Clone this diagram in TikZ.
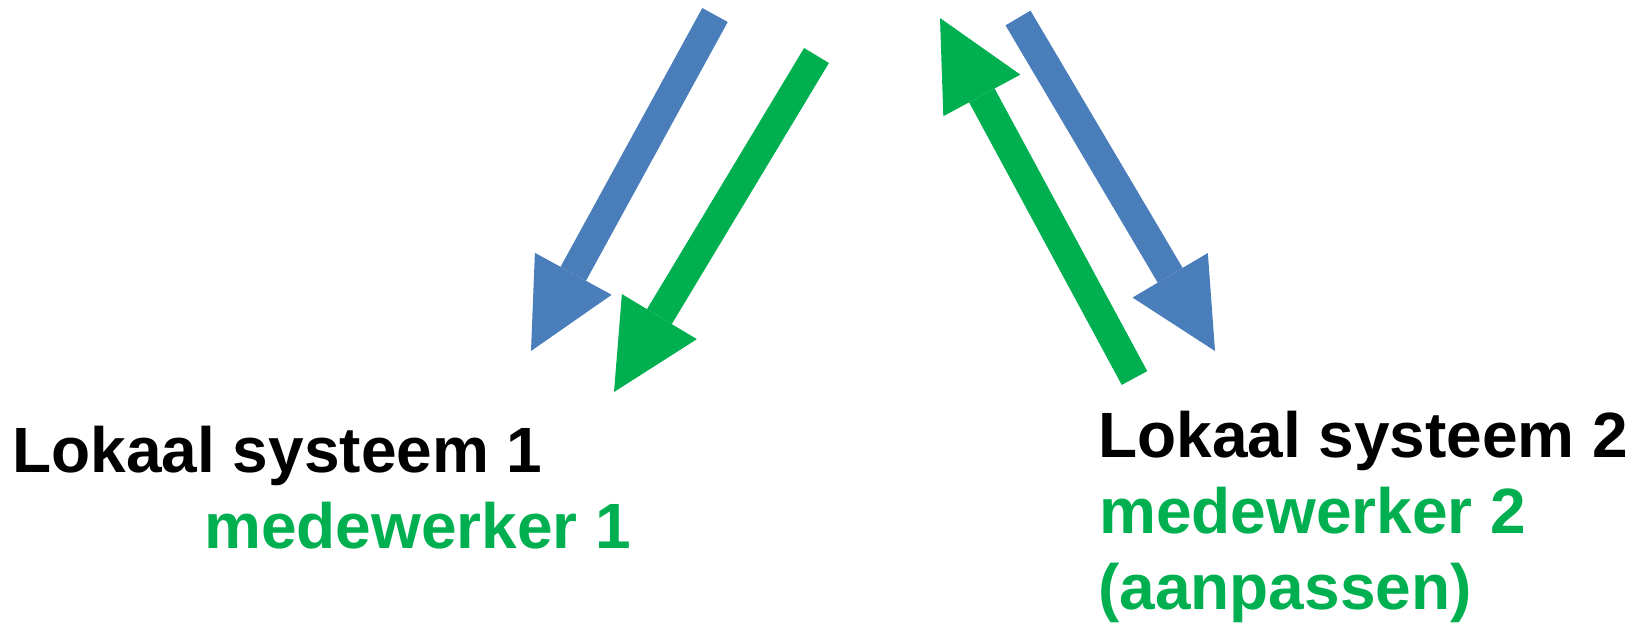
\documentclass[tikz,border=0pt]{standalone}
\usepackage{fontspec}
\setmainfont{Liberation Sans}
\usetikzlibrary{arrows.meta}

\definecolor{pijlblauw}{HTML}{4A7EBB}
\definecolor{pijlgroen}{HTML}{00B050}

\tikzset{
  pijl/.style={line width=29pt, -{Triangle[width=87.5pt,length=88pt,line width=0pt]}},
  tekst/.style={inner sep=0pt, anchor=base west, font=\bfseries\fontsize{64}{76}\selectfont}
}

\begin{document}
\begin{tikzpicture}[x=1pt,y=-1pt]
%%   kw   (name)   (x, y)   {text}
    \useasboundingbox (0,0) rectangle (1643,622);
    \coordinate (b1a) at (715,15);
    \coordinate (b1b) at (531,351);
    \coordinate (g1a) at (816.5,55.5);
    \coordinate (g1b) at (614,392);
    \coordinate (g2a) at (1134.5,378);
    \coordinate (g2b) at (940,18);
    \coordinate (b2a) at (1018,18);
    \coordinate (b2b) at (1215,351);
    \draw[pijl, pijlblauw] (b1a) -- (b1b);
    \draw[pijl, pijlgroen] (g1a) -- (g1b);
    \draw[pijl, pijlgroen] (g2a) -- (g2b);
    \draw[pijl, pijlblauw] (b2a) -- (b2b);
    \node[tekst] (sys1) at (12.3,472) {Lokaal systeem 1};
    \node[tekst, pijlgroen] (mw1) at (204,548) {medewerker 1};
    \node[tekst] (sys2) at (1098,457) {Lokaal systeem 2};
    \node[tekst, pijlgroen] (mw2) at (1099,533) {medewerker 2};
    \node[tekst, pijlgroen] (aanp) at (1098,609) {(aanpassen)};
\end{tikzpicture}
\end{document}
